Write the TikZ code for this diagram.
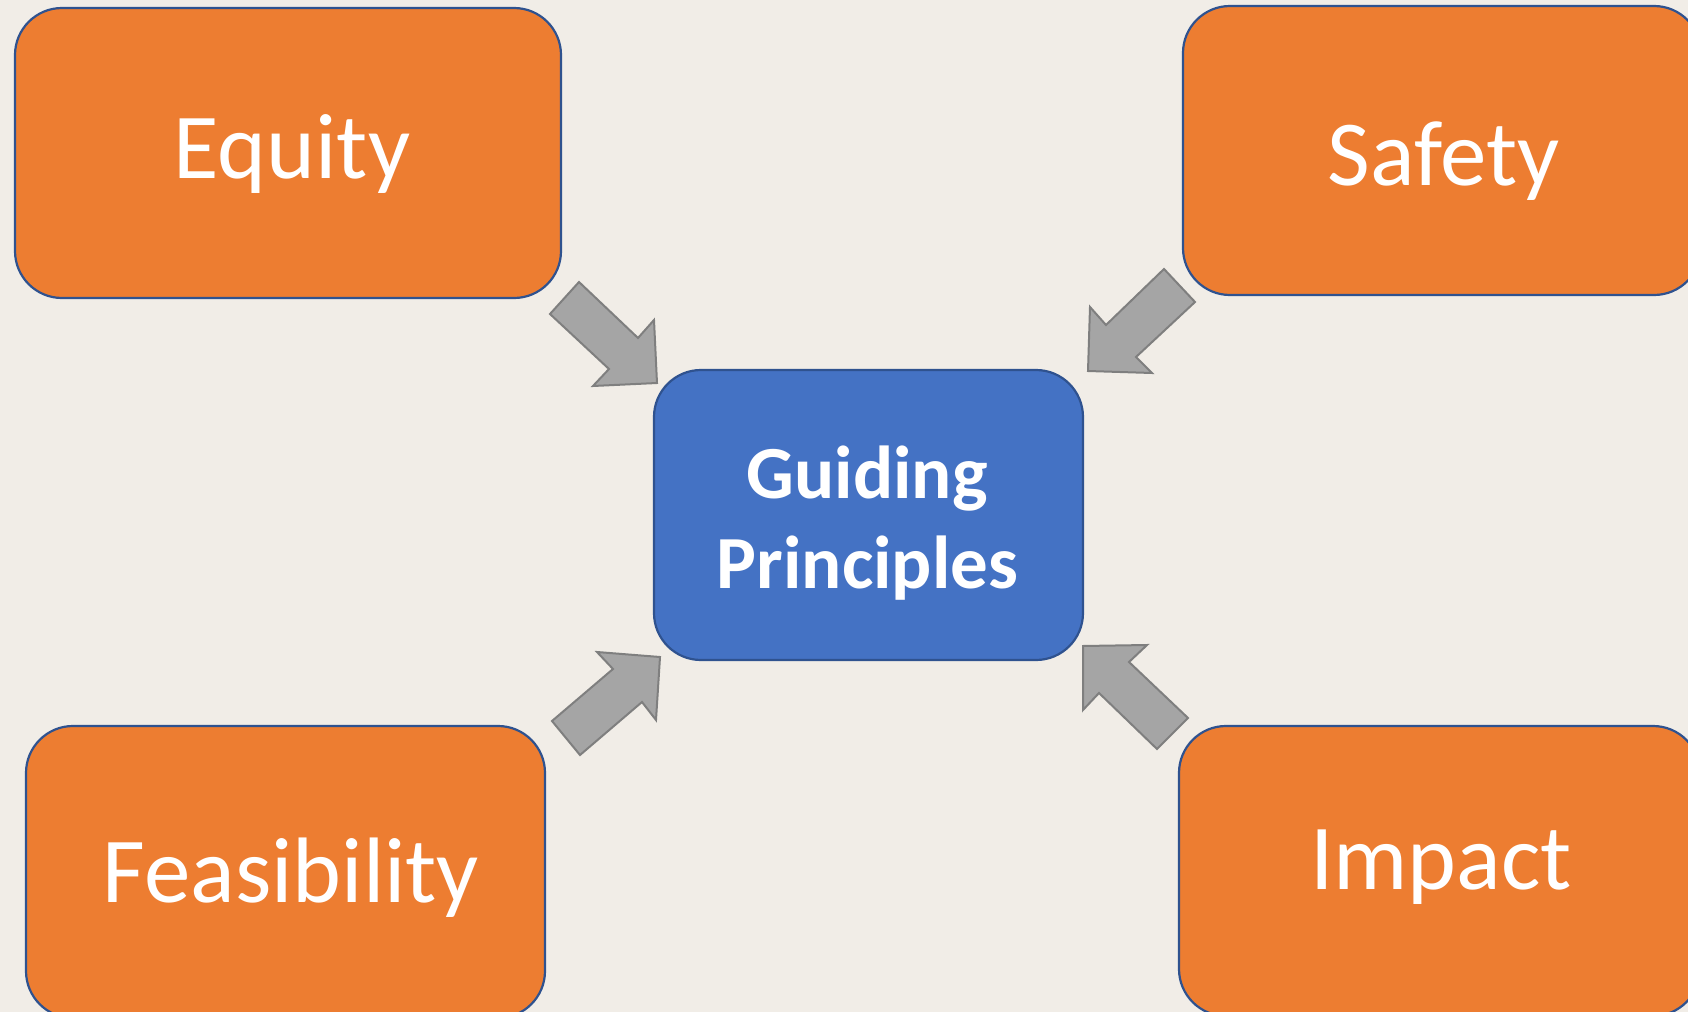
\documentclass[tikz,border=0pt]{standalone}
\usepackage{fontspec}
\setmainfont{Carlito}
\definecolor{bgc}{HTML}{F1EDE7}
\definecolor{orangefill}{HTML}{ED7D31}
\definecolor{bluefill}{HTML}{4472C4}
\definecolor{boxborder}{HTML}{2F528F}
\definecolor{arrowfill}{HTML}{A5A5A5}
\definecolor{arrowline}{HTML}{7F7F7F}
\tikzset{
  obox/.style={draw=boxborder, line width=1.1pt, fill=orangefill, rounded corners=23.5pt, inner sep=0pt},
  cbox/.style={draw=boxborder, line width=1.1pt, fill=bluefill, rounded corners=23.5pt, inner sep=0pt},
  lbl/.style={text=white, font=\fontsize{46.5}{56}\selectfont, anchor=base, inner sep=0pt},
  clbl/.style={text=white, font=\bfseries\fontsize{37.5}{45}\selectfont, anchor=base, inner sep=0pt},
  blockarrow/.style={draw=arrowline, fill=arrowfill, line width=1pt, line join=miter},
}
\begin{document}
\begin{tikzpicture}[x=0.5pt, y=-0.5pt]
\clip (0,0) rectangle (1688,1012);
\fill[bgc] (0,0) rectangle (1688,1012);
% boxes
\node[obox, minimum width=273pt, minimum height=145pt] (equity) at (288,153) {};
\node[obox, minimum width=259pt, minimum height=144.5pt] (safety) at (1442,150.5) {};
\node[cbox, minimum width=214.5pt, minimum height=145pt] (center) at (868.5,515) {};
\node[obox, minimum width=259.5pt, minimum height=146pt] (feas) at (285.5,872) {};
\node[obox, minimum width=260.5pt, minimum height=145pt] (impact) at (1439.5,871) {};
% labels
\node[lbl] (equitytxt) at (292,178) {Equity};
\node[lbl] (safetytxt) at (1443.5,185) {Safety};
\node[lbl] (feastxt) at (291,902) {Feasibility};
\node[lbl] (impacttxt) at (1441,889) {Impact};
\node[clbl] (gtxt) at (867,498) {Guiding};
\node[clbl] (ptxt) at (867.5,588) {Principles};
% block arrows
\draw[blockarrow] (579,282) -- (550,314) -- (609,369) -- (593,386) -- (657,383) -- (654,320) -- (638,338) -- cycle;
\draw[blockarrow] (1164,269) -- (1195,302) -- (1136,357) -- (1152,373) -- (1088,371) -- (1090,307) -- (1106,325) -- cycle;
\draw[blockarrow] (597,652) -- (660,657) -- (656,720) -- (642,702) -- (580,755) -- (552,721) -- (613,669) -- cycle;
\draw[blockarrow] (1083,646) -- (1147,645) -- (1129,662) -- (1188,718) -- (1157,749) -- (1099,693) -- (1083,710) -- cycle;
\end{tikzpicture}
\end{document}
